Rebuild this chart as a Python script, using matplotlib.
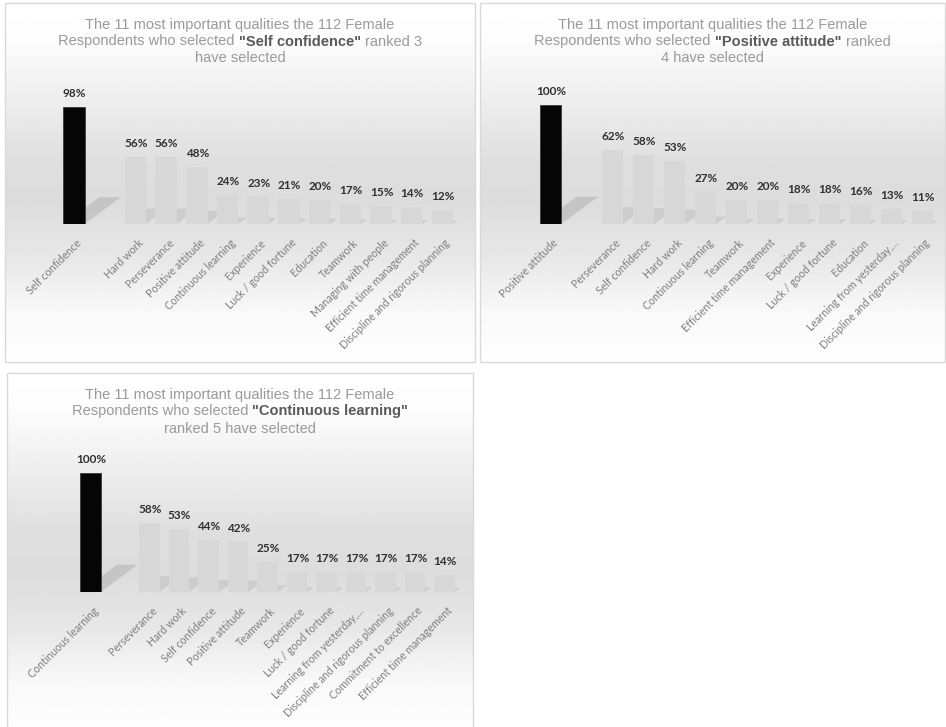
import numpy as np
import matplotlib
matplotlib.use("Agg")
import matplotlib.pyplot as plt
from matplotlib.patches import Rectangle, Polygon
from matplotlib.transforms import ScaledTranslation

W, H, DPI = 946, 727, 100

# ---- data -------------------------------------------------------------
sc_labels = ["Self confidence", "Hard work", "Perseverance", "Positive attitude",
             "Continuous learning", "Experience", "Luck / good fortune", "Education",
             "Teamwork", "Managing with people", "Efficient time management",
             "Discipline and rigorous planning"]
sc_values = [98, 56, 56, 48, 24, 23, 21, 20, 17, 15, 14, 12]

pa_labels = ["Positive attitude", "Perseverance", "Self confidence", "Hard work",
             "Continuous learning", "Teamwork", "Efficient time management",
             "Experience", "Luck / good fortune", "Education",
             "Learning from yesterday,\u2026", "Discipline and rigorous planning"]
pa_values = [100, 62, 58, 53, 27, 20, 20, 18, 18, 16, 13, 11]

cl_labels = ["Continuous learning", "Perseverance", "Hard work", "Self confidence",
             "Positive attitude", "Teamwork", "Experience", "Luck / good fortune",
             "Learning from yesterday,\u2026", "Discipline and rigorous planning",
             "Commitment to excellence", "Efficient time management"]
cl_values = [100, 58, 53, 44, 42, 25, 17, 17, 17, 17, 17, 14]

titles = [
    [[("The 11 most important qualities the 112 Female", False)],
     [("Respondents who selected", False), ("\"Self confidence\"", True), ("ranked 3", False)],
     [("have selected", False)]],
    [[("The 11 most important qualities the 112 Female", False)],
     [("Respondents who selected", False), ("\"Positive attitude\"", True), ("ranked", False)],
     [("4 have selected", False)]],
    [[("The 11 most important qualities the 112 Female", False)],
     [("Respondents who selected", False), ("\"Continuous learning\"", True)],
     [("ranked 5 have selected", False)]],
]

# ---- layout (pixels from top-left) --------------------------------------
panels = [
    dict(box=(5, 3, 475, 362), plot=(58.6, 457.8, 224), labels=sc_labels, values=sc_values, title=titles[0]),
    dict(box=(480, 3, 945, 362), plot=(535.0, 938.0, 224), labels=pa_labels, values=pa_values, title=titles[1]),
    dict(box=(7, 373, 473, 733), plot=(75.8, 459.3, 592), labels=cl_labels, values=cl_values, title=titles[2]),
]
FULL_PX = 119.0  # height of a 100 % bar

TITLE_FONT = "Liberation Sans"
TITLE_SIZE = 10.5
LABEL_FONT = "Lato"

fig = plt.figure(figsize=(W / DPI, H / DPI), dpi=DPI)
fig.patch.set_facecolor("white")


def frac_rect(x0, y0, x1, y1):
    return [x0 / W, 1 - y1 / H, (x1 - x0) / W, (y1 - y0) / H]


# vertical background gradient: white -> soft gray -> white
stops_pos = [0.0, 0.10, 0.45, 0.56, 0.72, 0.86, 1.0]
stops_val = [1.0, 0.99, 0.87, 0.865, 0.91, 0.975, 0.995]
grad = np.interp(np.linspace(0, 1, 400), stops_pos, stops_val)[:, None]

renderer = fig.canvas.get_renderer()


def text_width(s, bold):
    t = fig.text(0, 0, s, fontsize=TITLE_SIZE, family=TITLE_FONT,
                 weight="bold" if bold else "normal")
    w = t.get_window_extent(renderer).width
    t.remove()
    return w


space_w = text_width("x x", False) - text_width("xx", False)

for p in panels:
    bx0, by0, bx1, by1 = p["box"]
    bg = fig.add_axes(frac_rect(bx0, by0, bx1, by1), zorder=0)
    bg.imshow(grad, cmap="gray", vmin=0, vmax=1, aspect="auto",
              extent=(0, 1, 0, 1), interpolation="bilinear")
    bg.set_xlim(0, 1)
    bg.set_ylim(0, 1)
    bg.axis("off")
    bg.add_patch(Rectangle((0, 0), 1, 1, transform=bg.transAxes, fill=False,
                           ec="#d9d9d9", lw=1.0, clip_on=False))

    # title, one line at a time, mixing regular and bold runs
    xc = (bx0 + bx1) / 2
    for i, line in enumerate(p["title"]):
        yc = by0 + 21.5 + 17 * i
        widths = [text_width(s, b) for s, b in line]
        total = sum(widths) + space_w * (len(line) - 1)
        x = xc - total / 2
        for (s, b), w in zip(line, widths):
            fig.text(x / W, 1 - yc / H, s, fontsize=TITLE_SIZE, family=TITLE_FONT,
                     weight="bold" if b else "normal",
                     color="#5a5a5a" if b else "#9a9a9a",
                     ha="left", va="center")
            x += w + space_w

    # bar plot area
    px0, px1, base = p["plot"]
    ax = fig.add_axes(frac_rect(px0, base - FULL_PX, px1, base), zorder=1)
    ax.patch.set_alpha(0)
    ax.set_xlim(-0.5, 12.5)
    ax.set_ylim(0, 100)
    for sp in ax.spines.values():
        sp.set_visible(False)

    values = p["values"]
    pos = [0] + list(range(2, 2 + len(values) - 1))
    colors = ["#050505"] + ["#d7d7d7"] * (len(values) - 1)
    edges = ["#3c3c3c"] + ["none"] * (len(values) - 1)
    bw = 0.7
    ax.bar(pos, values, width=bw, color=colors, edgecolor=edges, lw=0.6, zorder=3)

    # floor shadows cast back and to the right of each bar
    ppx = (px1 - px0) / 13.0
    ppy = FULL_PX / 100.0
    for i, (c, v) in enumerate(zip(pos, values)):
        hp = v * ppy
        ddx = 0.31 * hp / ppx
        ddy = 0.23 * hp / ppy
        xl, xr = c - bw / 2, c + bw / 2
        poly = Polygon([(xl, 0), (xr, 0), (xr + ddx, ddy), (xl + ddx, ddy)],
                       closed=True, lw=0,
                       fc="#a8a8a8" if i == 0 else "#b8b8b8",
                       alpha=0.45 if i == 0 else 0.45, zorder=2)
        ax.add_patch(poly)

    for c, v in zip(pos, values):
        ax.annotate(f"{v}%", (c, v), xytext=(0.5, 13.5), textcoords="offset pixels",
                    ha="center", va="center", fontsize=8.5, weight="bold",
                    family=LABEL_FONT, color="#303030", zorder=4)

    ax.set_yticks([])
    ax.set_xticks(pos)
    ax.set_xticklabels(p["labels"], rotation=45, ha="right", va="top",
                       rotation_mode="anchor", fontsize=7.7, family=LABEL_FONT,
                       color="#7e7e7e")
    ax.tick_params(axis="x", length=0, pad=9.5)
    shift = ScaledTranslation(2 / DPI, 0, fig.dpi_scale_trans)
    for lab in ax.get_xticklabels():
        lab.set_transform(lab.get_transform() + shift)

fig.savefig("out.png", dpi=DPI, facecolor="white")
